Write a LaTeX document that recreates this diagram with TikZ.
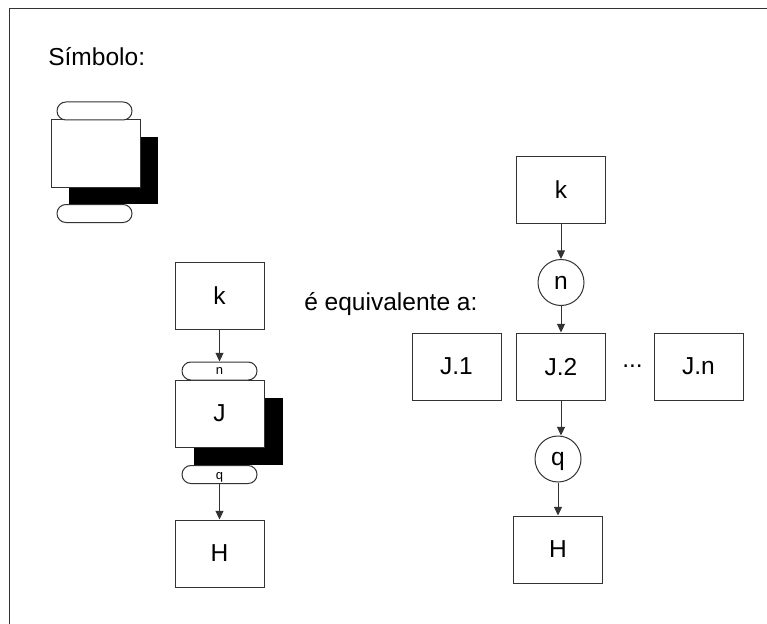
\documentclass[tikz,border=0pt]{standalone}
\usepackage{fontspec}
\setmainfont{Liberation Sans}
\usetikzlibrary{arrows.meta}
\begin{document}
\begin{tikzpicture}[x=0.75pt,y=-0.75pt,
  ln/.style={draw=black!80, line width=0.75pt},
  box/.style={ln, rectangle, fill=white, minimum width=66.75pt, minimum height=50.25pt, inner sep=0pt, text depth=0pt, font=\fontsize{18.4}{22}\selectfont},
  shadowbox/.style={rectangle, fill=black, minimum width=66.75pt, minimum height=50.25pt, inner sep=0pt},
  pill/.style={ln, rectangle, rounded corners=6.7pt, fill=white, minimum width=56.25pt, minimum height=13.5pt, inner sep=0pt, text depth=0pt, font=\fontsize{9.75}{11}\selectfont},
  circ/.style={ln, circle, fill=white, minimum size=34.5pt, inner sep=0pt, text depth=0pt, font=\fontsize{18.4}{22}\selectfont},
  arr/.style={draw=black!80, line width=0.75pt, -{Triangle[length=6.5pt,width=6pt]}},
  lbl/.style={inner sep=0pt, font=\fontsize{18.4}{22}\selectfont}
]
\useasboundingbox (0,0) rectangle (767,624);
\fill[white] (0,0) rectangle (767,624);
\draw[ln] (767,8.5) -- (9.5,8.5) -- (9.5,624);

% title texts
\node[lbl, anchor=base west] (t1) at (48,66) {Símbolo:};
\node[lbl, anchor=base west] (t2) at (304,310) {é equivalente a:};

% symbol
\node[shadowbox] (s0) at (113.5,170.5) {};
\node[box] (s1) at (95.5,153.5) {};
\node[pill] (s2) at (94.5,111) {};
\node[pill] (s3) at (94.5,213.5) {};

% left block
\node[box] (k1) at (219.5,296) {k};
\node[shadowbox] (js) at (238,431.5) {};
\node[box] (j) at (219.5,413.5) {J};
\node[pill] (pn) at (219.5,371) {n};
\node[pill] (pq) at (219.5,474.5) {\raisebox{-1.5pt}{q}};
\node[box] (h1) at (219.5,553.5) {H};
\draw[arr] (k1) -- (pn);
\draw[arr] (pq) -- (h1);

% right block
\node[box] (k2) at (561,190) {k};
\node[circ] (cn) at (561,282.5) {n};
\node[box] (j1) at (456.5,366.5) {J.1};
\node[box] (j2) at (561,366.5) {J.2};
\node[box] (jn) at (698.5,366.5) {J.n};
\node[lbl, anchor=base west] (dots) at (622,367) {...};
\node[circ] (cq) at (558,459) {q};
\node[box] (h2) at (558,549.5) {H};
\draw[arr] (k2) -- (cn);
\draw[arr] (cn) -- (j2);
\draw[arr] (j2.south) -- (j2.south |- cq.north);
\draw[arr] (cq) -- (h2);
\end{tikzpicture}
\end{document}
